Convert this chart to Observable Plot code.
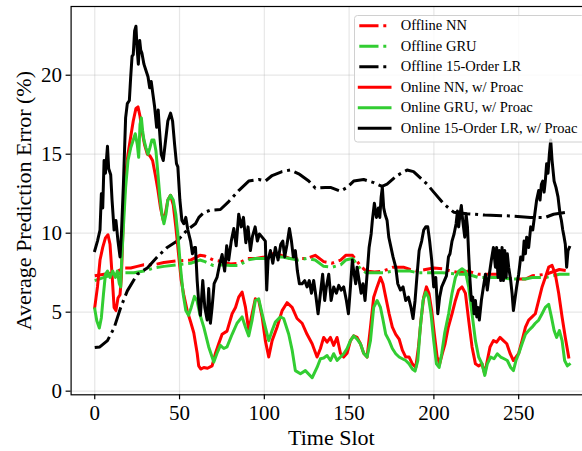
<!DOCTYPE html>
<html>
<head>
<meta charset="utf-8">
<script src="https://cdn.jsdelivr.net/npm/d3@7"></script>
<script src="https://cdn.jsdelivr.net/npm/@observablehq/plot@0.6"></script>
<style>
  html, body { margin: 0; padding: 0; background: #fff; overflow: hidden; }
  #wrap { position: relative; width: 582px; height: 451px; overflow: hidden; }
  #wrap svg.plot { position: absolute; left: 0; top: 0; }
  #legend { position: absolute; left: 354px; top: 15px; }
</style>
</head>
<body>
<div id="wrap"></div>
<script>
// Offline predictors: [time slot, average prediction error %]
const offlineNN = [[0,7.3],[5.5,7.4],[11.4,7.5],[17.3,7.8],[21.2,7.8],[25.1,7.9],[29,8.0],[34.9,8.0],[40.8,8.15],[48.6,8.25],[56.5,8.3],[62,8.6],[65,8.55],[70,8.3],[75,8.2],[80,8.05],[85,8.1],[90,8.4],[95,8.4],[100,8.5],[105,8.7],[110,8.6],[115,8.4],[120,8.4],[125,8.4],[130,8.6],[135,8.2],[140,8.1],[145,8.3],[148,8.6],[152,8.6],[157,7.9],[160,7.6],[165,7.55],[170,7.6],[176,7.85],[182,7.85],[186,7.7],[190,7.6],[195,7.7],[200,7.8],[205,7.75],[210,7.6],[215,7.5],[220,7.6],[226,7.4],[232,7.4],[238,7.4],[246,7.1],[254,7.1],[258,7.3],[266,7.4],[274,7.7],[280,7.6]];
const offlineGRU = [[0,7.0],[5.5,7.2],[11.4,7.4],[17.3,7.5],[23.1,7.5],[29,7.6],[34.9,7.8],[40.8,7.9],[48.6,8.0],[56.5,8.1],[62,8.3],[65,8.2],[70,7.95],[75,8.0],[80,7.95],[85,7.95],[90,8.3],[95,8.4],[100,8.4],[105,8.5],[110,8.5],[115,8.4],[120,8.3],[125,8.4],[130,8.3],[135,7.9],[140,7.85],[145,8.0],[148,8.3],[152,8.4],[157,7.7],[160,7.5],[165,7.5],[170,7.5],[176,7.6],[182,7.6],[186,7.6],[190,7.5],[195,7.5],[200,7.5],[205,7.5],[210,7.45],[215,7.4],[220,7.4],[226,7.2],[232,7.2],[238,7.2],[246,7.1],[254,7.1],[258,7.2],[266,7.2],[274,7.4],[280,7.4]];
const offlineLR = [[0,2.76],[3,2.8],[7.5,3.2],[11.4,4.0],[15.3,5.3],[19.2,6.35],[25.1,7.4],[31,7.8],[36.9,8.5],[42.7,9.1],[48.6,9.5],[54.5,10.2],[59.4,10.6],[61.4,11.0],[64.3,11.3],[68,11.45],[74.1,11.5],[79,12.0],[84.9,12.7],[90.8,13.3],[96.7,13.4],[100.6,13.3],[104.6,13.65],[110.5,13.9],[115.4,14.0],[120.3,13.76],[126.2,13.3],[130.1,12.85],[136,12.9],[139,12.9],[144.9,12.66],[148.8,12.9],[152.7,13.3],[158.6,13.4],[164.5,13.2],[169.4,12.96],[172.4,13.1],[178.3,13.65],[184.2,14.0],[188,13.9],[192,13.5],[196,13.1],[199.9,12.6],[205.8,11.86],[211.7,11.33],[219.6,11.23],[230,11.15],[243.2,11.1],[256.9,11.0],[265.7,11.0],[270.6,11.2],[278.5,11.33],[279.9,11.4]];

// Online predictors with proactive updates
const onlineNN = [[0,5.3],[1.6,6.6],[3.1,8.3],[4.7,9.1],[6.3,9.7],[7.8,9.9],[9,9.3],[10.2,7.4],[11.4,5.3],[12.5,5.1],[13.7,5.9],[14.9,6.1],[15.7,7.2],[16.9,11.2],[18.2,13.7],[19.6,15.0],[21.2,16.1],[22.7,17.1],[24.3,17.9],[25.5,18.0],[26.7,17.4],[27.8,16.5],[29.4,15.6],[31,15.0],[32.5,14.9],[34.1,14.6],[35.7,13.7],[37.3,12.7],[38.8,11.6],[40.4,10.8],[41.6,11.2],[43.1,12.1],[44.7,12.4],[46.3,11.8],[47.8,10.4],[49.4,8.7],[51,7.0],[52.5,6.1],[54.5,5.1],[56.5,4.4],[58.4,3.7],[60.4,2.4],[61.3,1.6],[62.5,1.4],[64.3,1.5],[66.5,1.45],[69.2,1.6],[71.2,2.4],[73.1,3.0],[75.1,3.6],[78,3.8],[81,4.9],[83,5.3],[84.9,5.95],[86.9,6.27],[88.9,5.3],[90.8,3.84],[92.8,4.9],[94.7,5.85],[96.7,5.74],[98.7,4.7],[100.6,3.2],[102.6,2.16],[104.6,3.2],[107.5,4.05],[110.5,5.1],[113.4,5.6],[116.4,5.3],[119.3,4.6],[122.3,4.3],[125.2,3.6],[128.2,3.0],[131.1,2.16],[133.1,2.7],[135,3.4],[137,3.1],[139,3.4],[140.9,2.9],[142.9,3.4],[144.9,2.4],[146.8,2.16],[148.8,2.4],[150.8,3.2],[152.7,3.5],[154.7,3.4],[156.7,3.0],[158.6,2.4],[160.6,2.16],[162.6,4.05],[164.5,5.95],[166.5,6.6],[168.5,7.2],[170,6.8],[171.6,5.95],[173.6,4.9],[175.5,4.05],[177.5,3.6],[179.5,3.3],[181.4,2.6],[183.4,2.16],[185.4,2.16],[187.3,1.73],[189.3,1.5],[190.9,2.8],[192.4,4.5],[194,5.95],[195.6,6.6],[197.1,6.2],[198.7,5.1],[200.3,3.6],[201.9,2.16],[203.4,1.73],[205,2.4],[206.6,3.0],[208.4,4.0],[210.7,4.9],[212.7,5.74],[214.6,6.4],[216.6,6.6],[218.6,6.2],[220.5,4.5],[222.5,2.8],[224.5,1.73],[226.4,1.6],[228.4,1.73],[230,1.1],[231.5,1.94],[233.1,2.8],[235.1,3.2],[237,3.1],[239,3.4],[241,3.2],[243,3.0],[244.9,2.4],[246.9,1.94],[248.4,2.16],[250,2.4],[252,3.2],[254,4.05],[255.9,4.5],[257.9,4.7],[259.8,4.9],[261.8,5.74],[263.8,6.6],[265.7,7.2],[267.7,7.85],[269.7,7.96],[271.6,7.4],[273.6,6.2],[275.6,4.7],[277.5,3.4],[279.5,2.16]];
const onlineGRU = [[0,5.2],[1.2,4.45],[2.7,4.0],[3.9,4.65],[5.1,6.1],[6.3,7.4],[7.5,7.6],[9,7.2],[10.6,7.6],[12.2,7.2],[13.3,7.6],[14.5,6.8],[15.3,6.6],[15.9,8.3],[16.9,10.4],[18.2,12.9],[19.6,14.6],[21.2,15.4],[22.7,15.9],[23.9,16.3],[25.1,15.6],[25.9,14.8],[26.7,16.9],[27.5,17.3],[28.2,16.5],[29,15.9],[30.2,15.4],[31.4,15.0],[32.5,15.4],[33.7,15.9],[34.9,15.9],[36.1,15.2],[37.3,13.7],[38.4,12.3],[39.6,11.2],[40.8,10.6],[42,11.2],[43.1,12.1],[44.7,12.4],[46.3,12.1],[47.8,11.2],[49,9.9],[50.6,7.8],[52.2,6.1],[53.7,5.1],[55.3,4.8],[56.9,5.3],[58.8,6.0],[60.4,5.7],[61.9,4.9],[64.3,4.05],[67.2,2.8],[70.2,1.84],[72.1,2.4],[74.1,2.9],[76.1,2.7],[78,2.8],[81,3.6],[83.9,4.3],[86.9,4.7],[88.9,4.05],[90.8,3.5],[92.8,4.5],[94.7,5.74],[96.7,5.85],[98.7,4.9],[100.6,4.05],[102.6,3.2],[104.6,3.84],[106.5,4.37],[109.5,4.7],[111.4,4.6],[114.4,3.6],[116.4,2.6],[118.3,1.3],[121.3,1.1],[124.2,1.3],[128.2,0.85],[131.1,1.5],[133.1,2.05],[135,2.1],[137,2.26],[139,1.94],[140.9,2.37],[142.9,1.95],[144.9,2.16],[146.8,2.37],[148.8,2.7],[150.8,3.2],[152.7,3.5],[154.7,3.3],[156.7,3.0],[158.6,2.4],[160.6,2.16],[162.6,3.2],[164.5,5.3],[166.5,5.74],[168.5,5.3],[170,4.5],[171.6,3.6],[173.6,3.2],[175.5,2.7],[177.5,2.37],[179.5,2.16],[181.4,2.05],[183.4,1.94],[185.4,1.73],[187.3,1.4],[188.9,1.27],[190.5,1.94],[192,4.05],[193.6,5.74],[195.2,6.27],[196.8,5.95],[198.3,4.9],[199.9,3.2],[201.5,1.73],[203.1,1.5],[204.6,2.37],[206.4,3.7],[208.7,4.9],[210.7,6.2],[212.7,7.2],[214.6,7.6],[216.6,7.75],[218.6,7.6],[220.5,6.6],[222.5,4.9],[224.5,3.2],[226.4,2.16],[228.4,1.73],[230,1.0],[231.5,1.73],[233.5,2.16],[235.5,2.05],[237.4,2.37],[239.4,2.16],[241.4,2.05],[243.3,1.94],[245.3,1.5],[246.9,1.3],[248.4,1.94],[250,2.37],[252,3.0],[254,3.6],[255.9,3.84],[257.9,4.05],[259.8,4.3],[261.8,4.5],[263.8,4.9],[265.7,5.3],[267.7,5.5],[269.3,4.7],[270.9,3.84],[272.4,3.4],[274,3.84],[275.6,3.2],[277.1,1.94],[278.7,1.6],[279.9,1.7]];
const onlineLR = [[0,8.9],[1.6,9.5],[3.1,10.2],[3.9,12.5],[4.7,11.6],[5.5,14.6],[6.3,13.8],[7.5,15.5],[8.2,14.1],[9.4,13.7],[10.2,12.1],[11.4,10.2],[12.5,10.8],[13.7,9.5],[14.9,8.5],[15.7,9.9],[16.9,13.1],[18.2,17.3],[19.2,18.2],[20.4,18.4],[21.2,19.9],[22,21.2],[22.7,21.3],[23.5,22.8],[24.3,23.1],[24.9,21.8],[25.7,20.7],[26.5,22.2],[27.1,21.6],[27.8,21.4],[29,20.7],[30.2,20.3],[31.4,19.9],[32.4,19.2],[33.3,19.6],[34.3,18.8],[35.3,18.0],[36.5,16.7],[37.4,17.8],[38.2,16.5],[39.2,15.0],[40.4,14.6],[41.8,15.9],[43.1,17.1],[44.7,17.6],[45.9,17.1],[47.1,15.6],[48.2,14.4],[49,14.2],[50.2,12.1],[51.4,10.8],[52.5,10.6],[53.7,11.0],[54.9,10.2],[56.5,9.5],[57.6,8.7],[58.8,9.1],[59.4,9.1],[60.4,7.0],[61.4,5.5],[62.3,4.8],[63.7,7.0],[64.9,5.3],[66.3,4.5],[67.2,6.5],[68.2,4.3],[69.2,5.3],[70.4,6.8],[72.1,7.2],[73.6,8.0],[75.1,8.65],[76.6,7.6],[77.8,9.2],[79,8.3],[80.5,9.5],[82,10.3],[83.4,9.2],[84.9,11.2],[86.4,10.4],[87.7,11.0],[89.1,9.4],[90.4,10.4],[91.8,8.9],[93,9.8],[94.6,10.4],[95.9,9.5],[97.1,9.95],[98.7,9.75],[100.6,9.5],[101.4,6.4],[102.2,8.3],[103.6,8.9],[105,8.1],[106.5,9.1],[108.1,8.3],[109.7,9.3],[110.9,9.5],[112,8.5],[113.4,9.3],[114.8,10.3],[116,9.5],[117.1,8.5],[118.3,8.9],[119.5,7.6],[120.7,6.8],[122.3,6.8],[123.8,7.0],[125.2,6.6],[126.5,7.0],[127.8,6.2],[129.1,7.0],[130.5,5.95],[131.7,4.9],[133.1,6.2],[134.4,7.4],[135.6,5.74],[136.6,6.6],[138,7.4],[139.4,5.74],[140.9,6.6],[142.5,6.2],[143.9,6.7],[145.3,6.4],[146.8,6.6],[148.4,5.74],[149.6,4.9],[150.8,6.6],[151.9,8.3],[152.7,7.6],[153.9,6.8],[154.7,7.85],[155.9,7.0],[157.1,6.2],[158.2,6.8],[159.4,5.74],[160.6,7.4],[161.8,9.1],[163,9.95],[163.7,10.8],[164.9,11.9],[166.1,11.0],[167.3,11.6],[168.1,11.0],[168.9,12.3],[169.6,12.9],[170.4,11.6],[171.2,11.2],[172.4,10.8],[173.4,9.75],[174.7,9.1],[175.9,8.5],[177.5,7.85],[178.7,6.8],[180.3,6.4],[181.8,6.6],[183.4,5.74],[185,5.95],[186.5,5.3],[187.7,4.6],[188.9,5.74],[190.1,7.4],[191.3,8.9],[192.8,9.5],[194,10.2],[195.2,10.4],[196.4,10.4],[197.5,9.5],[198.7,8.3],[199.9,6.6],[201.1,7.2],[202.3,4.9],[203.4,5.95],[204.6,6.6],[206.2,7.0],[207.4,7.3],[208.6,8.5],[209.5,8.7],[210.7,9.5],[211.9,9.95],[213.1,10.6],[213.9,11.4],[214.6,10.4],[215.4,11.2],[216.2,11.75],[217,10.8],[218.2,9.75],[219,11.2],[219.8,10.4],[220.5,8.7],[221.3,7.0],[222.1,5.74],[222.9,5.95],[223.7,4.9],[224.5,5.74],[225.3,4.7],[226,5.3],[226.8,4.5],[228,5.74],[229.2,6.6],[230.4,7.4],[231.5,6.4],[232.7,7.4],[233.9,8.3],[235.1,9.1],[236.3,7.85],[237,9.1],[237.8,7.2],[238.6,8.9],[239.4,7.0],[240.2,9.1],[241,7.0],[241.8,8.9],[242.6,7.2],[243.3,8.7],[244.1,7.85],[245.3,7.0],[246.1,6.2],[246.9,5.1],[247.7,5.74],[248.8,6.6],[250,7.4],[251.2,8.5],[252.4,8.3],[253.2,9.5],[254,8.7],[254.7,9.75],[255.9,9.1],[257.1,10.4],[258.3,10.2],[259.5,11.2],[260.6,12.1],[261.8,12.7],[262.6,12.1],[263.4,13.1],[264.2,13.3],[265,12.6],[265.7,13.3],[266.5,14.4],[267.3,13.8],[268.1,15.0],[268.9,15.9],[269.7,14.6],[270.9,13.3],[272,12.9],[273.2,12.3],[274.4,11.2],[275.2,10.8],[276,10.2],[276.8,9.75],[277.5,9.3],[278.3,7.85],[279.1,8.9],[279.9,9.1]];

const xTicks = [0, 50, 100, 150, 200, 250];
const yTicks = [0, 5, 10, 15, 20];
const xLabel = "Time Slot";
const yLabel = "Average Prediction Error (%)";

const DASHDOT = "19.2,4.8,3,4.8";
const series = [
  {name: "Offline NN", data: offlineNN, color: "#ff0000", dash: DASHDOT},
  {name: "Offline GRU", data: offlineGRU, color: "#32cd32", dash: DASHDOT},
  {name: "Offline 15-Order LR", data: offlineLR, color: "#000000", dash: DASHDOT},
  {name: "Online NN, w/ Proac", data: onlineNN, color: "#ff0000", dash: null},
  {name: "Online GRU, w/ Proac", data: onlineGRU, color: "#32cd32", dash: null},
  {name: "Online 15-Order LR, w/ Proac", data: onlineLR, color: "#000000", dash: null}
];

const FONT = "Liberation Serif, Times New Roman, serif";
const LW = 3;

const lines = series.map(s => Plot.line(s.data, {
  x: d => d[0], y: d => d[1],
  stroke: s.color, strokeWidth: LW,
  strokeDasharray: s.dash ?? undefined,
  strokeLinecap: s.dash ? "butt" : "square",
  strokeLinejoin: "round"
}));

const chart = Plot.plot({
  width: 592, height: 451,
  marginLeft: 70.6, marginRight: 1, marginTop: 6, marginBottom: 56.7,
  style: {fontFamily: FONT, fontSize: "21px", background: "#fff", color: "#000", maxWidth: "none"},
  x: {domain: [-13.95, 292.95], label: null},
  y: {domain: [-0.23, 24.35], label: null},
  marks: [
    Plot.gridX(xTicks, {stroke: "#b0b0b0", strokeOpacity: 0.3, strokeWidth: 1.2}),
    Plot.gridY(yTicks, {stroke: "#b0b0b0", strokeOpacity: 0.3, strokeWidth: 1.2}),
    ...lines,
    Plot.frame({stroke: "#000", strokeWidth: 1.2}),
    Plot.axisX(xTicks, {tickSize: 5, tickPadding: 5, fontSize: 21, label: null, strokeWidth: 1.2}),
    Plot.axisY(yTicks, {tickSize: 5, tickPadding: 4, fontSize: 21, label: null, strokeWidth: 1.2}),
    Plot.text([xLabel], {text: d => d, frameAnchor: "bottom", dy: 43, textAnchor: "middle", lineAnchor: "middle", fontSize: 22}),
    Plot.text([yLabel], {text: d => d, frameAnchor: "left", rotate: -90, dx: -47, textAnchor: "middle", lineAnchor: "middle", fontSize: 22})
  ]
});
document.getElementById("wrap").appendChild(chart);

// Legend box drawn inside the axes, upper right
const rowH = 20.5, boxW = 230, boxH = 126.5;
const leg = d3.select("#wrap").append("svg")
  .attr("id", "legend")
  .attr("width", boxW + 2).attr("height", boxH + 2)
  .style("font-family", FONT);
leg.append("rect")
  .attr("x", 0.5).attr("y", 0.5).attr("width", boxW).attr("height", boxH)
  .attr("rx", 3).attr("fill", "rgba(255,255,255,0.8)").attr("stroke", "#d0d0d0").attr("stroke-width", 1);
const row = leg.selectAll("g.row").data(series).join("g")
  .attr("class", "row")
  .attr("transform", (d, i) => `translate(0,${10.7 + i * rowH})`);
row.append("line")
  .attr("x1", 5.3).attr("x2", 36).attr("y1", 0).attr("y2", 0)
  .attr("stroke", d => d.color).attr("stroke-width", LW)
  .attr("stroke-dasharray", d => d.dash)
  .attr("stroke-linecap", d => d.dash ? "butt" : "square");
row.append("text")
  .attr("x", 46.7).attr("y", 0).attr("dy", "0.33em")
  .attr("font-size", 14.5).attr("fill", "#000")
  .text(d => d.name);
</script>
</body>
</html>
